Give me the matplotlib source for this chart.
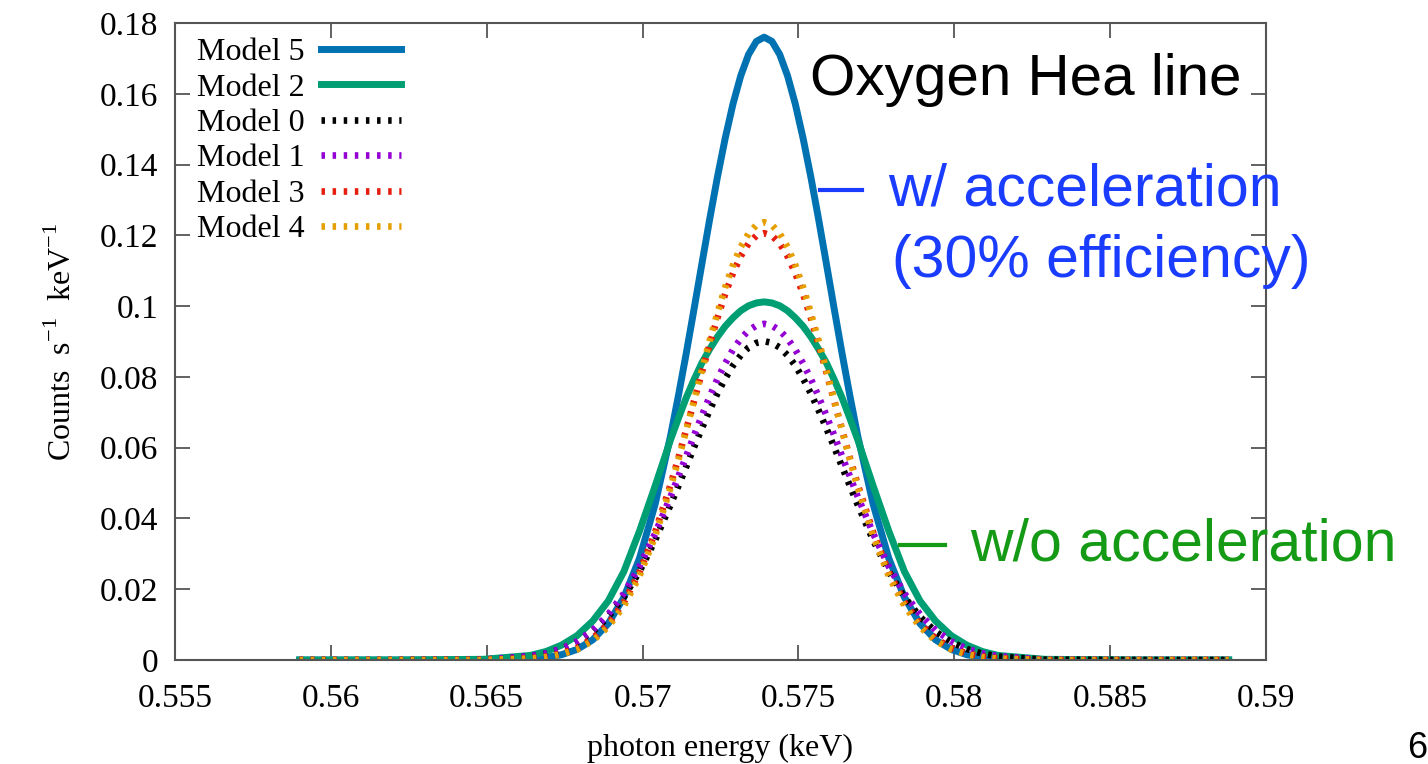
import numpy as np
import matplotlib
matplotlib.use('Agg')
import matplotlib.pyplot as plt
from matplotlib.lines import Line2D
from matplotlib.ticker import FuncFormatter, MultipleLocator

plt.rcParams['font.family'] = 'Liberation Serif'
plt.rcParams['mathtext.fontset'] = 'custom'
plt.rcParams['mathtext.rm'] = 'Liberation Serif'
plt.rcParams['lines.scale_dashes'] = False

# photon energy grid (keV) and line profiles for each model
energy = [0.5590, 0.5620, 0.5649,
          0.5664, 0.5669, 0.5674, 0.5679, 0.5684, 0.5689, 0.5694, 0.5699, 0.5704,
          0.57090, 0.57115, 0.57140, 0.57165, 0.57190, 0.57215, 0.57240,
          0.57265, 0.57290, 0.57315, 0.57340, 0.57365, 0.57390, 0.57415,
          0.57440, 0.57465, 0.57490, 0.57515, 0.57540, 0.57565, 0.57590,
          0.57615, 0.57640, 0.57665, 0.57690,
          0.5774, 0.5779, 0.5784, 0.5789, 0.5794, 0.5799, 0.5804, 0.5809, 0.5814,
          0.5829, 0.5860, 0.5888]

model5 = [0, 0, 0,
          0.0003, 0.0007, 0.0015, 0.0030, 0.0057, 0.0103, 0.0177, 0.0287, 0.0439,
          0.0634, 0.0747, 0.0866, 0.0991, 0.1118, 0.1244, 0.1364,
          0.1474, 0.1571, 0.1651, 0.1711, 0.1748, 0.1760, 0.1748,
          0.1711, 0.1651, 0.1571, 0.1474, 0.1364, 0.1244, 0.1118,
          0.0991, 0.0866, 0.0747, 0.0634,
          0.0439, 0.0287, 0.0177, 0.0103, 0.0057, 0.0030, 0.0015, 0.0007, 0.0003,
          0, 0, 0]
model2 = [0, 0, 0.0002,
          0.0013, 0.0024, 0.0042, 0.0069, 0.0110, 0.0167, 0.0250, 0.0364, 0.0491,
          0.0623, 0.0683, 0.0741, 0.0792, 0.0839, 0.0878, 0.0913,
          0.0943, 0.0967, 0.0987, 0.1001, 0.1009, 0.1012, 0.1009,
          0.1001, 0.0987, 0.0967, 0.0943, 0.0913, 0.0878, 0.0839,
          0.0792, 0.0741, 0.0683, 0.0623,
          0.0491, 0.0364, 0.0250, 0.0167, 0.0110, 0.0069, 0.0042, 0.0024, 0.0013,
          0.0002, 0, 0]
model0 = [0, 0, 0.0001,
          0.0010, 0.0018, 0.0031, 0.0051, 0.0080, 0.0122, 0.0178, 0.0250, 0.0338,
          0.0439, 0.0492, 0.0546, 0.0601, 0.0654, 0.0705, 0.0753,
          0.0795, 0.0832, 0.0861, 0.0883, 0.0896, 0.0901, 0.0896,
          0.0883, 0.0861, 0.0832, 0.0795, 0.0753, 0.0705, 0.0654,
          0.0601, 0.0546, 0.0492, 0.0439,
          0.0338, 0.0250, 0.0178, 0.0122, 0.0080, 0.0051, 0.0031, 0.0018, 0.0010,
          0.0001, 0, 0]
model1 = [0, 0, 0.0001,
          0.0011, 0.0019, 0.0032, 0.0053, 0.0084, 0.0129, 0.0188, 0.0264, 0.0357,
          0.0462, 0.0519, 0.0576, 0.0634, 0.0690, 0.0744, 0.0794,
          0.0838, 0.0877, 0.0908, 0.0931, 0.0945, 0.0950, 0.0945,
          0.0931, 0.0908, 0.0877, 0.0838, 0.0794, 0.0744, 0.0690,
          0.0634, 0.0576, 0.0519, 0.0462,
          0.0357, 0.0264, 0.0188, 0.0129, 0.0084, 0.0053, 0.0032, 0.0019, 0.0011,
          0.0001, 0, 0]
model3 = [0, 0, 0,
          0.0005, 0.0010, 0.0019, 0.0034, 0.0061, 0.0102, 0.0163, 0.0248, 0.0360,
          0.0496, 0.0571, 0.0651, 0.0731, 0.0812, 0.0891, 0.0966,
          0.1034, 0.1093, 0.1141, 0.1177, 0.1199, 0.1206, 0.1199,
          0.1177, 0.1141, 0.1093, 0.1034, 0.0966, 0.0891, 0.0812,
          0.0731, 0.0651, 0.0571, 0.0496,
          0.0360, 0.0248, 0.0163, 0.0102, 0.0061, 0.0034, 0.0019, 0.0010, 0.0005,
          0, 0, 0]
model4 = [0, 0, 0,
          0.0004, 0.0008, 0.0016, 0.0030, 0.0054, 0.0094, 0.0153, 0.0237, 0.0349,
          0.0488, 0.0566, 0.0649, 0.0733, 0.0818, 0.0902, 0.0980,
          0.1053, 0.1116, 0.1167, 0.1205, 0.1229, 0.1237, 0.1229,
          0.1205, 0.1167, 0.1116, 0.1053, 0.0980, 0.0902, 0.0818,
          0.0733, 0.0649, 0.0566, 0.0488,
          0.0349, 0.0237, 0.0153, 0.0094, 0.0054, 0.0030, 0.0016, 0.0008, 0.0004,
          0, 0, 0]

dots = (0, (2.5, 5.5))

figure = plt.figure(figsize=(14.28, 7.64), dpi=100)
ax = figure.add_axes([0.1225, 0.1361, 0.7641, 0.8338])

ax.plot(energy, model5, color='#0072b2', lw=5.0, label='Model 5')
ax.plot(energy, model2, color='#009e73', lw=5.0, label='Model 2')
ax.plot(energy, model0, color='black', lw=4.8, ls=dots, label='Model 0')
ax.plot(energy, model1, color='#9400d3', lw=4.8, ls=dots, label='Model 1')
ax.plot(energy, model3, color='#e51e10', lw=4.8, ls=dots, label='Model 3')
ax.plot(energy, model4, color='#e69f00', lw=4.8, ls=dots, label='Model 4')

ax.set_xlim(0.555, 0.59)
ax.set_ylim(0, 0.18)
ax.xaxis.set_major_locator(MultipleLocator(0.005))
ax.yaxis.set_major_locator(MultipleLocator(0.02))
fmt = FuncFormatter(lambda v, pos: '%g' % round(v, 4))
ax.xaxis.set_major_formatter(fmt)
ax.yaxis.set_major_formatter(fmt)
ax.tick_params(direction='in', length=11, width=1.3, color='#555555',
               labelsize=24, top=True, right=True)
ax.tick_params(axis='x', pad=17)
ax.tick_params(axis='y', pad=12)
for s in ax.spines.values():
    s.set_color('#555555')
    s.set_linewidth(1.5)

ax.set_xlabel('photon energy (keV)', fontsize=23, labelpad=14)
ax.set_ylabel(r'Counts  s$^{-1}$  keV$^{-1}$', fontsize=23, labelpad=16)

leg = ax.legend(loc='upper left', bbox_to_anchor=(0.0, 1.012), frameon=False,
                fontsize=23, markerfirst=False, handlelength=2.5,
                labelspacing=0.19, borderpad=0.2, handletextpad=0.5)

# annotations on the right of the line
sans = 'Liberation Sans'
figure.text(810 / 1428, 1 - 80 / 764, 'Oxygen Hea line', family=sans,
            fontsize=42, color='black', va='center', ha='left')
figure.add_artist(Line2D([820 / 1428, 862 / 1428], [1 - 190 / 764, 1 - 190 / 764],
                         color='#1a3cff', lw=3))
figure.text(888 / 1428, 1 - 190 / 764, 'w/ acceleration', family=sans,
            fontsize=42.5, color='#1a3cff', va='center', ha='left')
figure.text(892 / 1428, 1 - 262 / 764, '(30% efficiency)', family=sans,
            fontsize=42.5, color='#1a3cff', va='center', ha='left')
figure.add_artist(Line2D([900 / 1428, 945 / 1428], [1 - 545 / 764, 1 - 545 / 764],
                         color='#159a15', lw=3))
figure.text(970 / 1428, 1 - 545 / 764, 'w/o acceleration', family=sans,
            fontsize=42.5, color='#159a15', va='center', ha='left')
figure.text(1427 / 1428, 1 - 748 / 764, '6', family=sans,
            fontsize=26, color='black', va='center', ha='right')

plt.savefig('out.png', dpi=100)
plt.close()
